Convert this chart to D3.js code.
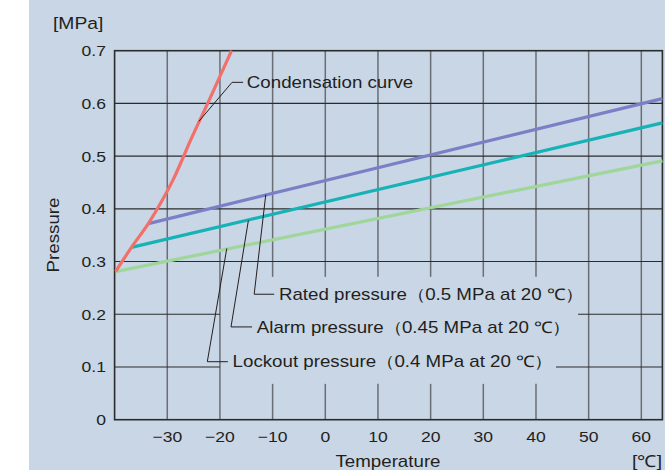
<!DOCTYPE html>
<html>
<head>
<meta charset="utf-8">
<script src="https://cdn.jsdelivr.net/npm/d3@7"></script>
<style>
  body { margin: 0; background: #fff; }
  text { font-family: "Liberation Sans", Arial, sans-serif; fill: #231f20; }
</style>
</head>
<body>
<svg id="chart"></svg>
<script>
const width = 665;
const height = 470;

// axis ticks
const tempTicks = [-30, -20, -10, 0, 10, 20, 30, 40, 50, 60];
const pressTicks = [0, 0.1, 0.2, 0.3, 0.4, 0.5, 0.6, 0.7];

// series: [temperature, pressure]
const condensation = [[-39.8, 0.281], [-36.8, 0.327], [-33.6, 0.372], [-31.2, 0.412],
                      [-28.9, 0.455], [-25.4, 0.534], [-21.5, 0.618], [-17.8, 0.700]];
const rated = [[-33.6, 0.372], [64, 0.609]];
const alarm = [[-36.8, 0.327], [64, 0.563]];
const lockout = [[-39.8, 0.281], [64, 0.491]];

// leader labels: anchor on curve, elbow, text start (data units)
const labels = [
  { text: "Condensation curve", anchor: [-24.0, 0.566], elbow: [-17.7, 0.640], end: -15.6, textT: -14.9 },
  { text: "Rated pressure（0.5 MPa at 20 ℃）", anchor: [-11.3, 0.427], elbow: [-13.5, 0.238], end: -9.7, textT: -8.8 },
  { text: "Alarm pressure（0.45 MPa at 20 ℃）", anchor: [-14.6, 0.378], elbow: [-17.9, 0.176], end: -13.9, textT: -13.0 },
  { text: "Lockout pressure（0.4 MPa at 20 ℃）", anchor: [-18.7, 0.325], elbow: [-22.4, 0.110], end: -18.5, textT: -17.6 }
];

// grid gaps where the labels sit
const vGap = { ticks: [-10, 0, 10, 20, 30, 40], from: 0.068, to: 0.271 };
const hGap = [{ p: 0.2, from: -20, to: 48 }, { p: 0.1, from: -20, to: 43.8 }];

const svg = d3.select('#chart').attr('width', width).attr('height', height);

svg.append('rect')
    .attr('x', 29).attr('y', 0)
    .attr('width', width - 29).attr('height', height)
    .attr('fill', '#c9d6e5');

const x = d3.scaleLinear().domain([-40, 64]).range([114.6, 662.4]);
const y = d3.scaleLinear().domain([0, 0.7]).range([419.7, 50.7]);

// the original type is set a little wide, so stretch text horizontally
function addText(tx, ty, str, size, anchor, rot) {
    return svg.append('text')
        .attr('transform', `translate(${tx},${ty})` + (rot ? ` rotate(${rot})` : '') + ' scale(1.17,1)')
        .attr('text-anchor', anchor || 'start')
        .attr('font-size', size)
        .text(str);
}

const grid = svg.append('g');

// vertical grid lines
tempTicks.forEach(t => {
    let segs = [[0, 0.7]];
    if (vGap.ticks.includes(t)) segs = [[0, vGap.from], [vGap.to, 0.7]];
    segs.forEach(s => {
        grid.append('line')
            .attr('x1', x(t)).attr('x2', x(t))
            .attr('y1', y(s[0])).attr('y2', y(s[1]))
            .attr('stroke', '#6a6e74').attr('stroke-width', 1.5);
    });
});

// horizontal grid lines
pressTicks.filter(p => p > 0 && p < 0.7).forEach(p => {
    const g = hGap.find(h => h.p === p);
    let segs = [[-40, 64]];
    if (g) segs = [[-40, g.from], [g.to, 64]];
    segs.forEach(s => {
        grid.append('line')
            .attr('x1', x(s[0])).attr('x2', x(s[1]))
            .attr('y1', y(p)).attr('y2', y(p))
            .attr('stroke', '#2b2b2b').attr('stroke-width', 1.1);
    });
});

// frame
svg.append('rect')
    .attr('x', x(-40)).attr('y', y(0.7))
    .attr('width', x(64) - x(-40)).attr('height', y(0) - y(0.7))
    .attr('fill', 'none').attr('stroke', '#2b2b2b').attr('stroke-width', 1.6);

const line = d3.line().x(d => x(d[0])).y(d => y(d[1]));

const series = [
    { data: lockout, color: '#9fd69a' },
    { data: alarm, color: '#17b2b6' },
    { data: rated, color: '#7a7fc6' },
    { data: condensation, color: '#f2706b' }
];
svg.selectAll('.series')
    .data(series)
    .enter().append('path')
    .attr('class', 'series')
    .attr('d', d => d.data === condensation ? line.curve(d3.curveMonotoneX)(d.data) : line.curve(d3.curveLinear)(d.data))
    .attr('fill', 'none')
    .attr('stroke', d => d.color)
    .attr('stroke-width', 3.2)
    .attr('stroke-linecap', 'butt');

// leader lines and label text
labels.forEach(l => {
    svg.append('polyline')
        .attr('points', [[x(l.anchor[0]), y(l.anchor[1])], [x(l.elbow[0]), y(l.elbow[1])], [x(l.end), y(l.elbow[1])]].map(p => p.join(',')).join(' '))
        .attr('fill', 'none')
        .attr('stroke', '#231f20')
        .attr('stroke-width', 1);
    addText(x(l.textT), y(l.elbow[1]), l.text, 16).attr('dy', '0.36em');
});

// tick labels
tempTicks.forEach(t => addText(x(t), 442, t < 0 ? '\u2212' + Math.abs(t) : t, 15, 'middle'));
pressTicks.forEach(p => addText(106, y(p), p === 0 ? '0' : p.toFixed(1), 15, 'end').attr('dy', '0.36em'));

// axis titles
addText(53, 29, '[MPa]', 16.5);
addText(59, 235, 'Pressure', 16, 'middle', -90);
addText(388, 467, 'Temperature', 16, 'middle');
addText(662, 467, '[℃]', 16.5, 'end');
</script>
</body>
</html>
